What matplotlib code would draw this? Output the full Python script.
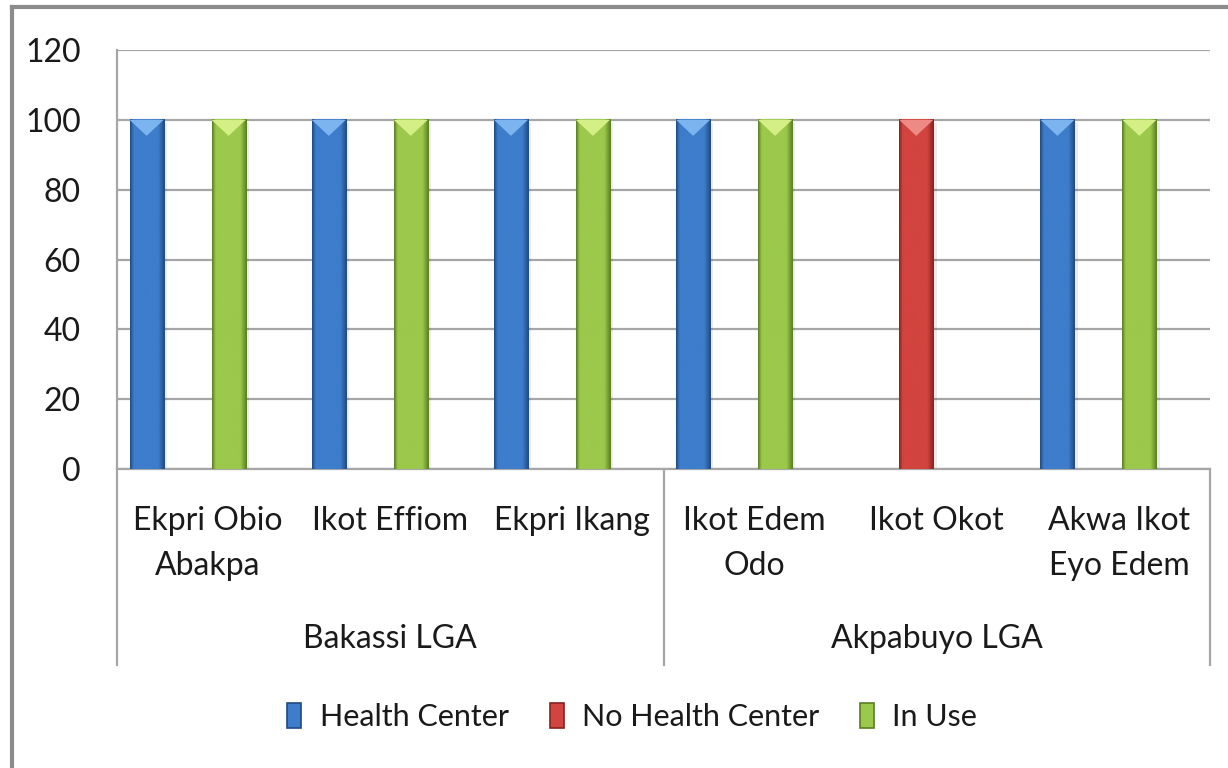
import matplotlib
matplotlib.use("Agg")
import matplotlib.pyplot as plt
import numpy as np
from matplotlib.colors import LinearSegmentedColormap
from matplotlib.patches import Polygon, Patch
from matplotlib.lines import Line2D

# data
communities = ["Ekpri Obio\nAbakpa", "Ikot Effiom", "Ekpri Ikang",
               "Ikot Edem\nOdo", "Ikot Okot", "Akwa Ikot\nEyo Edem"]
lgas = ["Bakassi LGA", "Akpabuyo LGA"]
lga_sizes = [3, 3]
series_names = ["Health Center", "No Health Center", "In Use"]
health_center = [100, 100, 100, 100, 0, 100]
no_health_center = [0, 0, 0, 0, 100, 0]
in_use = [100, 100, 100, 100, 0, 100]
y_ticks = [0, 20, 40, 60, 80, 100, 120]

# main, dark edge, light top
palette = [("#3d7dcb", "#204a80", "#7cb4f0"),
           ("#d2443f", "#86221f", "#ee8a86"),
           ("#9cc94b", "#5a7e24", "#d4ef86")]

plt.rcParams['font.family'] = ['Liberation Sans Narrow', 'Lato', 'DejaVu Sans']
fs = 23
txt = "#1a1a1a"

fig = plt.figure(figsize=(12.28, 7.68), dpi=100)
ax = fig.add_axes([117 / 1228, 1 - 469 / 768, (1210 - 117) / 1228, (469 - 50) / 768])

ax.set_xlim(0, len(communities))
ax.set_ylim(0, 120)
ax.set_yticks(y_ticks)
ax.set_yticklabels([str(t) for t in y_ticks], fontsize=fs, color=txt)
ax.tick_params(axis="y", length=0, pad=26)
ax.set_xticks([])
ax.grid(axis="y", color="#a6a6a6", linewidth=1.6, zorder=0)
ax.set_axisbelow(True)
for s in ["top", "right"]:
    ax.spines[s].set_visible(False)
for s in ["left", "bottom"]:
    ax.spines[s].set_color("#a6a6a6")
    ax.spines[s].set_linewidth(1.6)

x = np.arange(len(communities)) + 0.5
slot = 0.225
bw = 0.187
all_series = [health_center, no_health_center, in_use]
handles = []
for k, vals in enumerate(all_series):
    main, dark, light = palette[k]
    xs = x + (k - 1.5) * slot
    bars = ax.bar(xs, vals, width=bw, color=main, zorder=2, linewidth=0)
    cmap = LinearSegmentedColormap.from_list(
        "b%d" % k, [(0, dark), (0.1, main), (0.5, main), (0.82, main), (1, dark)])
    for b in bars:
        h = b.get_height()
        if h <= 0:
            continue
        x0, x1 = b.get_x(), b.get_x() + b.get_width()
        # soft shadow on the right
        ax.add_patch(plt.Rectangle((x1, 0), 0.018, h - 1, color="#000000",
                                   alpha=0.08, zorder=1.5, linewidth=0))
        grad = np.linspace(0, 1, 64).reshape(1, -1)
        ax.imshow(grad, extent=(x0, x1, 0, h), aspect="auto", cmap=cmap,
                  zorder=3, interpolation="bicubic")
        ax.add_patch(Polygon([(x0, h), (x1, h), ((x0 + x1) / 2, h - 4.6)],
                             closed=True, color=light, zorder=4, linewidth=0))
    handles.append(Patch(facecolor=main, edgecolor=dark, linewidth=1.2))

ax.set_xlim(0, len(communities))
ax.set_ylim(0, 120)

# multi-level category axis
tr = ax.get_xaxis_transform()
depth = -(665 - 469) / (469 - 50)
bounds = np.concatenate([[0], np.cumsum(lga_sizes)])
for b in bounds:
    ax.add_line(Line2D([b, b], [0, depth], transform=tr, color="#a6a6a6",
                       linewidth=1.6, clip_on=False))
for xi, name in zip(x, communities):
    ax.text(xi, -0.088, name, transform=tr, ha="center", va="top",
            fontsize=fs, color=txt, linespacing=1.62)
for i, name in enumerate(lgas):
    ax.text((bounds[i] + bounds[i + 1]) / 2, -0.405, name, transform=tr,
            ha="center", va="center", fontsize=fs, color=txt)

fig.legend(handles, series_names, loc="center", bbox_to_anchor=(0.515, 1 - 717 / 768),
           ncol=3, frameon=False, fontsize=22, handlelength=0.45, handleheight=0.9,
           handletextpad=0.6, columnspacing=1.35, labelcolor=txt)

# outer chart border (extends past the image on the right/bottom)
fig.add_artist(Line2D([12 / 1228, 12 / 1228], [0, 1 - 7 / 768], transform=fig.transFigure,
                      color="#8c8c8c", linewidth=3))
fig.add_artist(Line2D([12 / 1228, 1], [1 - 7 / 768, 1 - 7 / 768], transform=fig.transFigure,
                      color="#8c8c8c", linewidth=3))

fig.savefig("out.png", dpi=100)
